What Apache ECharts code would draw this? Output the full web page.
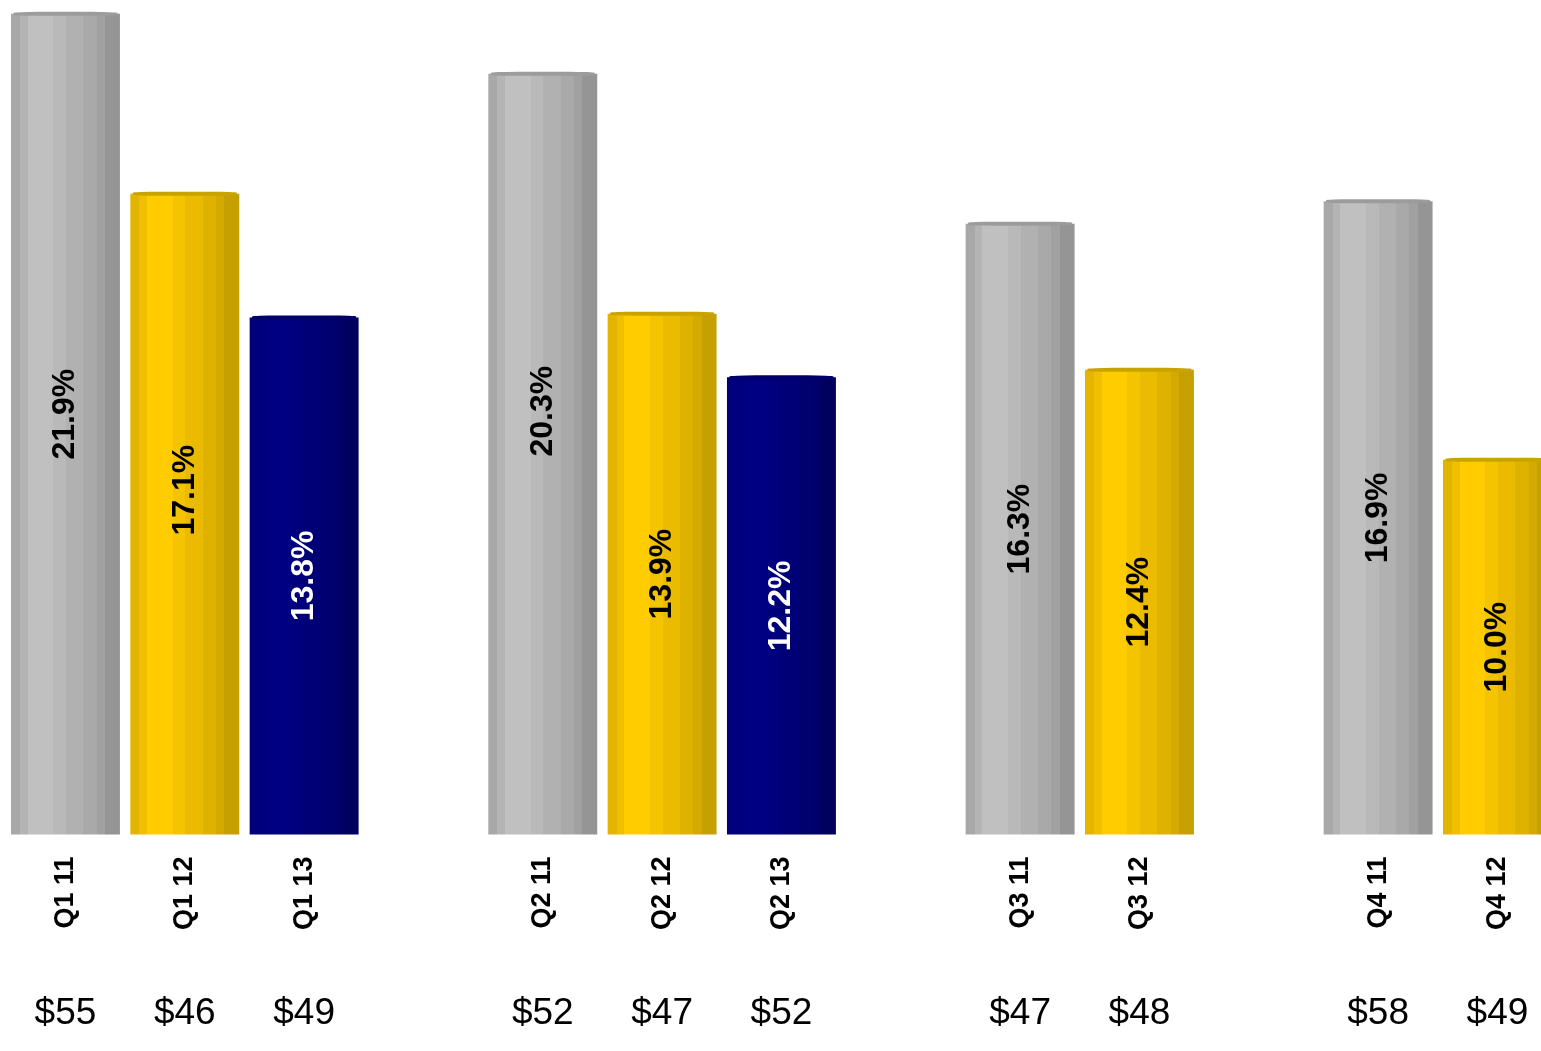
<!DOCTYPE html>
<html>
<head>
<meta charset="utf-8">
<title>Quarterly share</title>
<script src="https://cdn.jsdelivr.net/npm/echarts@6/dist/echarts.min.js"></script>
<style>
  html, body { margin: 0; padding: 0; background: #ffffff; }
  #chart { width: 1541px; height: 1051px; }
</style>
</head>
<body>
<div id="chart"></div>
<script>
// Quarter/year slots; empty strings are spacer slots between quarters.
const categories = ['Q1 11', 'Q1 12', 'Q1 13', '', 'Q2 11', 'Q2 12', 'Q2 13', '', 'Q3 11', 'Q3 12', '', 'Q4 11', 'Q4 12'];
// Share values (%) per slot; null for spacer slots.
const shares = [21.9, 17.1, 13.8, null, 20.3, 13.9, 12.2, null, 16.3, 12.4, null, 16.9, 10.0];
// Average price shown beneath each slot.
const avgPrice = ['$55', '$46', '$49', '', '$52', '$47', '$52', '', '$47', '$48', '', '$58', '$49'];
// Year of each slot, used to pick the bar colour.
const years = ['11', '12', '13', '', '11', '12', '13', '', '11', '12', '', '11', '12'];

// Upward nudges (px) for a few value labels.
const labelLift = [10, 24, 0, 0, 43, 0, 0, 0, 0, 0, 0, 0, 0];

// Striped horizontal gradient that gives each bar a cylinder look.
const stripeStops = [0, 0.083, 0.153, 0.388, 0.505, 0.664, 0.786, 0.862, 1];
function cylinder(colors) {
  const stops = [];
  for (let i = 0; i < colors.length; i++) {
    stops.push({ offset: stripeStops[i], color: colors[i] });
    stops.push({ offset: stripeStops[i + 1], color: colors[i] });
  }
  return new echarts.graphic.LinearGradient(0, 0, 1, 0, stops);
}
const palette = {
  '11': {
    fill: cylinder(['#a8a8a8', '#b4b4b4', '#c0c0c0', '#b9b9b9', '#b1b1b1', '#a9a9a9', '#a1a1a1', '#959595']),
    cap: '#9c9c9c', text: '#000000'
  },
  '12': {
    fill: cylinder(['#e3b500', '#f0c000', '#ffcc00', '#f5c400', '#eabb00', '#dfb200', '#d5aa00', '#c6a000']),
    cap: '#c9a400', text: '#000000'
  },
  '13': {
    fill: cylinder(['#00007a', '#00007e', '#000082', '#00007c', '#000076', '#00006f', '#000068', '#00005e']),
    cap: '#00006a', text: '#ffffff'
  }
};

const barData = shares.map((v, i) => {
  if (v === null) return '-';
  const p = palette[years[i]];
  return {
    value: v,
    itemStyle: { color: p.fill },
    // label is rotated 90°, so its local x runs upward on screen
    label: { color: p.text, offset: [labelLift[i], 0] }
  };
});
const capData = shares.map((v, i) => {
  if (v === null) return '-';
  return { value: v, itemStyle: { color: palette[years[i]].cap } };
});

const sans = '"Liberation Sans", Arial, sans-serif';

const chart = echarts.init(document.getElementById('chart'), null, { renderer: 'canvas' });
chart.setOption({
  animation: false,
  backgroundColor: '#ffffff',
  grid: {
    left: 5.8, top: 10.1, width: 1551.3, height: 824.4,
    outerBoundsMode: 'none', containLabel: false
  },
  xAxis: [
    {
      type: 'category',
      data: categories,
      axisLine: { show: false },
      axisTick: { show: false },
      splitLine: { show: false },
      axisLabel: {
        rotate: 90,
        margin: 22,
        fontFamily: sans,
        fontWeight: 'bold',
        fontSize: 27,
        color: '#000000',
        interval: 0
      }
    },
    {
      type: 'category',
      position: 'bottom',
      offset: 161,
      data: avgPrice,
      axisLine: { show: false },
      axisTick: { show: false },
      splitLine: { show: false },
      axisLabel: {
        margin: 0,
        fontFamily: sans,
        fontSize: 37,
        color: '#000000',
        interval: 0
      }
    }
  ],
  yAxis: {
    type: 'value',
    min: 0,
    max: 22,
    show: false,
    splitLine: { show: false }
  },
  series: [
    {
      type: 'bar',
      xAxisIndex: 0,
      data: barData,
      barCategoryGap: '8.7%',
      label: {
        show: true,
        position: 'inside',
        rotate: 90,
        fontFamily: sans,
        fontWeight: 'bold',
        fontSize: 32,
        formatter: (p) => p.value.toFixed(1) + '%'
      },
      z: 2
    },
    {
      type: 'pictorialBar',
      xAxisIndex: 0,
      data: capData,
      symbol: 'roundRect',
      symbolSize: [104, 4],
      symbolPosition: 'end',
      symbolOffset: [0, '-50%'],
      silent: true,
      z: 3
    }
  ]
});
</script>
</body>
</html>
